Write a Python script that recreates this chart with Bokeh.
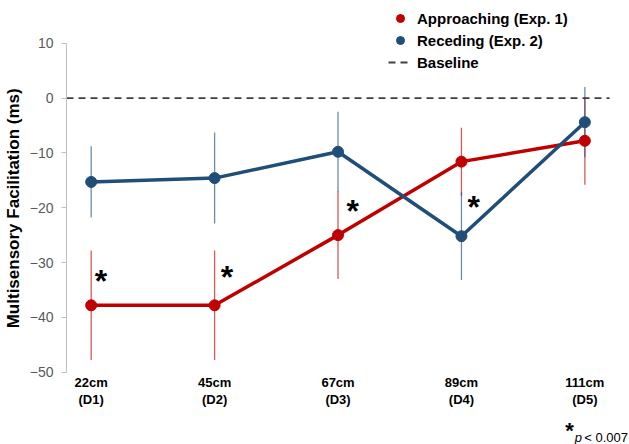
import numpy as np
from bokeh.plotting import figure
from bokeh.models import (FixedTicker, Legend, LegendItem, Label, Range1d)
from bokeh.core.properties import value
from bokeh.embed import file_html
from bokeh.resources import INLINE

# ---- data ----
distances = ["22cm\n(D1)", "45cm\n(D2)", "67cm\n(D3)", "89cm\n(D4)", "111cm\n(D5)"]
positions = [1, 2, 3, 4, 5]
approach_mean = [-37.8, -37.8, -25.0, -11.6, -7.8]
approach_err = [10.0, 10.0, 8.0, 6.2, 8.0]
recede_mean = [-15.3, -14.6, -9.8, -25.2, -4.4]
recede_err = [6.5, 8.3, 7.3, 8.0, 6.4]
baseline_value = [0, 0]
y_ticks = [-50, -40, -30, -20, -10, 0, 10]
y_min, y_max = -50, 10
star_x = [1.08, 2.10, 3.12, 4.10]
star_y = [-33.3, -32.6, -20.6, -19.8]
note_star_x = [4.876]
note_star_y = [-60.6]

RED = "#C00000"
BLUE = "#1F4E79"
FONT = "Liberation Sans"
X_START, X_END = 0.8, 5.2
NBSP = "\u00a0"

# frame spans whole canvas height (and to the right edge) so legend/footnote are not clipped
p = figure(width=629, height=444, output_backend="svg", toolbar_location=None,
           x_range=Range1d(X_START, 5.3616), y_range=Range1d(-63.19, 17.79),
           min_border_left=64, min_border_right=0, min_border_top=0, min_border_bottom=0)
p.outline_line_color = None
p.xgrid.visible = False
p.ygrid.visible = False
p.xaxis.visible = False

# error bars
for mean, err, col in ((approach_mean, approach_err, RED), (recede_mean, recede_err, BLUE)):
    m = np.array(mean); e = np.array(err)
    p.segment(x0=positions, y0=m - e, x1=positions, y1=m + e,
              line_color=col, line_alpha=0.65, line_width=1.3)

# baseline
base_r = p.line(x=[X_START, X_END], y=baseline_value, line_color="#404040",
                line_width=1.8, line_dash="7 5")

# series
p.line(x=positions, y=approach_mean, line_color=RED, line_width=3.5)
r_app = p.scatter(x=positions, y=approach_mean, size=11, fill_color=RED, line_color=RED)
p.line(x=positions, y=recede_mean, line_color=BLUE, line_width=3.5)
r_rec = p.scatter(x=positions, y=recede_mean, size=11, fill_color=BLUE, line_color=BLUE)

# significance asterisks
p.text(x=star_x, y=star_y, text=["*"] * len(star_x), text_font=value(FONT),
       text_font_style="bold", text_font_size="32px", text_align="center",
       text_baseline="middle", text_color="black")

# x category labels (drawn as text below the y-range bottom)
p.text(x=positions, y=[y_min] * len(positions), text=distances, text_font=value(FONT),
       text_font_style="bold", text_font_size="13px", text_align="center",
       text_baseline="top", text_line_height=1.15, y_offset=3, text_color="black")

# y axis
p.yaxis.bounds = (y_min, y_max)
p.yaxis.ticker = FixedTicker(ticks=y_ticks)
p.yaxis.axis_line_color = "#BFBFBF"
p.yaxis.major_tick_line_color = "#BFBFBF"
p.yaxis.major_tick_out = 5
p.yaxis.major_tick_in = 0
p.yaxis.minor_tick_line_color = None
p.yaxis.major_label_text_font = FONT
p.yaxis.major_label_text_font_size = "14px"
p.yaxis.major_label_text_color = "#595959"
p.yaxis.major_label_standoff = 8
p.yaxis.axis_label = NBSP * 6 + "Multisensory Facilitation (ms)"
p.yaxis.axis_label_text_font = FONT
p.yaxis.axis_label_text_font_style = "bold"
p.yaxis.axis_label_text_font_size = "17px"
p.yaxis.axis_label_text_color = "black"
p.yaxis.axis_label_standoff = 4

# legend
legend = Legend(items=[LegendItem(label="Approaching (Exp. 1)", renderers=[r_app]),
                       LegendItem(label="Receding (Exp. 2)", renderers=[r_rec]),
                       LegendItem(label="Baseline", renderers=[base_r])],
                location=(322, 372), orientation="vertical",
                label_text_font=FONT, label_text_font_style="bold",
                label_text_font_size="15px", label_text_color="black",
                glyph_width=24, glyph_height=20, label_height=20, spacing=2,
                label_standoff=5, padding=0, margin=0,
                border_line_color=None, background_fill_alpha=0)
p.add_layout(legend, "center")

# footnote
p.text(x=note_star_x, y=note_star_y, text=["*"], text_font=value(FONT),
       text_font_style="bold", text_font_size="22px", text_align="center",
       text_baseline="middle", text_color="black")
p.add_layout(Label(x=4.917, y=-61.92, text="p", text_font=FONT, text_font_style="italic",
                   text_font_size="13px", text_align="left", text_baseline="alphabetic",
                   text_color="black"))
p.add_layout(Label(x=4.995, y=-61.92, text="< 0.007", text_font=FONT,
                   text_font_size="13px", text_align="left", text_baseline="alphabetic",
                   text_color="black"))

open("out.html", "w").write(file_html(p, INLINE))
